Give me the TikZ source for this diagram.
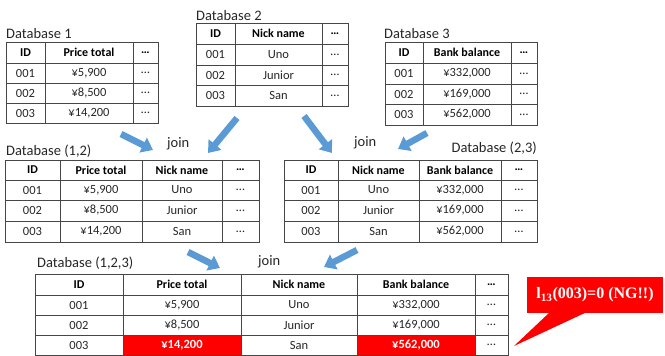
\documentclass[tikz,border=0pt]{standalone}
\usepackage{fontspec}
\setmainfont{Carlito}
\newfontfamily\calloutfont{Liberation Serif}
\usetikzlibrary{arrows.meta}

\definecolor{joinblue}{RGB}{91,155,213}
\definecolor{gridline}{RGB}{70,70,70}

\tikzset{
  cellbox/.style={draw=gridline, line width=0.9pt, inner sep=0pt,
    font=\fontsize{12.5}{14}\selectfont, text=black!85},
  headcell/.style={font=\fontsize{12}{14}\selectfont\bfseries, text=black},
  hotcell/.style={fill=red, text=white, font=\fontsize{12.5}{14}\selectfont\bfseries},
  dblabel/.style={anchor=base west, inner sep=0pt,
    font=\fontsize{14.5}{17}\selectfont, text=black!85},
  joinlabel/.style={anchor=base west, inner sep=0pt,
    font=\fontsize{14.5}{17}\selectfont, text=black!85},
  joinarrow/.style={draw=joinblue, line width=6.5pt,
    -{Triangle[width=16pt,length=11pt]}},
  calloutbox/.style={fill=red, inner sep=0pt, minimum width=136pt,
    minimum height=36pt, text=white,
    font=\calloutfont\bfseries\fontsize{16}{18}\selectfont},
}

% one table cell: [style] name, x0, x1, y0, y1, text
\newcommand\tcell[7][]{%
  \pgfmathsetmacro\cellw{#4-#3}%
  \pgfmathsetmacro\cellh{#6-#5}%
  \node[cellbox,#1,minimum width=\cellw pt,minimum height=\cellh pt]
    (#2) at ({(#3+#4)/2},{(#5+#6)/2}) {#7};}

% one table row: table, row, y0, y1, style, list of x0/x1/text
\newcommand\trow[6]{%
  \foreach \xa/\xb/\tx [count=\c] in {#6}{%
    \tcell[#5]{#1-#2-\c}{\xa}{\xb}{#3}{#4}{\tx}}}

\begin{document}
\begin{tikzpicture}[x=1pt,y=-1pt]
\useasboundingbox (0,0) rectangle (665,356);

% ---- Database 1
\node[dblabel] (l1) at (6,38) {Database 1};
\trow{t1}{0}{42}{63}{headcell}{6/45/ID,45/133/Price total,133/158/…}
\trow{t1}{1}{63}{83}{}{6/45/001,45/133/{¥5,900},133/158/…}
\trow{t1}{2}{83}{103}{}{6/45/002,45/133/{¥8,500},133/158/…}
\trow{t1}{3}{103}{123}{}{6/45/003,45/133/{¥14,200},133/158/…}

% ---- Database 2
\node[dblabel] (l2) at (196,20) {Database 2};
\trow{t2}{0}{23}{44}{headcell}{196/235/ID,235/322/Nick name,322/348/…}
\trow{t2}{1}{44}{65}{}{196/235/001,235/322/Uno,322/348/…}
\trow{t2}{2}{65}{85}{}{196/235/002,235/322/Junior,322/348/…}
\trow{t2}{3}{85}{106}{}{196/235/003,235/322/San,322/348/…}

% ---- Database 3
\node[dblabel] (l3) at (384,38) {Database 3};
\trow{t3}{0}{42}{63}{headcell}{385/423/ID,423/511/Bank balance,511/537/…}
\trow{t3}{1}{63}{84}{}{385/423/001,423/511/{¥332,000},511/537/…}
\trow{t3}{2}{84}{104}{}{385/423/002,423/511/{¥169,000},511/537/…}
\trow{t3}{3}{104}{125}{}{385/423/003,423/511/{¥562,000},511/537/…}

% ---- Database (1,2)
\node[dblabel] (l12) at (6,155) {Database (1,2)};
\trow{t12}{0}{160}{180}{headcell}{5/60/ID,60/142/Price total,142/222/Nick name,222/259/…}
\trow{t12}{1}{180}{200}{}{5/60/001,60/142/{¥5,900},142/222/Uno,222/259/…}
\trow{t12}{2}{200}{221}{}{5/60/002,60/142/{¥8,500},142/222/Junior,222/259/…}
\trow{t12}{3}{221}{242}{}{5/60/003,60/142/{¥14,200},142/222/San,222/259/…}

% ---- Database (2,3)
\node[dblabel,anchor=base east] (l23) at (537,152) {Database (2,3)};
\trow{t23}{0}{160}{180}{headcell}{284/338/ID,338/419/Nick name,419/501/Bank balance,501/537/…}
\trow{t23}{1}{180}{200}{}{284/338/001,338/419/Uno,419/501/{¥332,000},501/537/…}
\trow{t23}{2}{200}{221}{}{284/338/002,338/419/Junior,419/501/{¥169,000},501/537/…}
\trow{t23}{3}{221}{242}{}{284/338/003,338/419/San,419/501/{¥562,000},501/537/…}

% ---- Database (1,2,3)
\node[dblabel] (l123) at (37,267) {Database (1,2,3)};
\trow{t123}{0}{274}{295}{headcell}{35/123/ID,123/241/Price total,241/357/Nick name,357/475/Bank balance,475/508/…}
\trow{t123}{1}{295}{315}{}{35/123/001,123/241/{¥5,900},241/357/Uno,357/475/{¥332,000},475/508/…}
\trow{t123}{2}{315}{335}{}{35/123/002,123/241/{¥8,500},241/357/Junior,357/475/{¥169,000},475/508/…}
\tcell{t123-3-1}{35}{123}{335}{355}{003}
\tcell{t123-3-3}{241}{357}{335}{355}{San}
\tcell{t123-3-5}{475}{508}{335}{355}{…}
\tcell[hotcell]{t123-3-2}{123}{241}{335}{355}{¥14,200}
\tcell[hotcell]{t123-3-4}{357}{475}{335}{355}{¥562,000}

% ---- join labels
\node[joinlabel] (j12) at (167,147) {join};
\node[joinlabel] (j23) at (354,146) {join};
\node[joinlabel] (j123) at (258,265) {join};

% ---- join arrows
\coordinate (a1s) at (121,134); \coordinate (a1e) at (153,150);
\coordinate (a2s) at (237,118); \coordinate (a2e) at (208,153);
\coordinate (a3s) at (304,116); \coordinate (a3e) at (332,153);
\coordinate (a4s) at (427,133); \coordinate (a4e) at (398,149);
\coordinate (a5s) at (188,252); \coordinate (a5e) at (220,268);
\coordinate (a6s) at (357,250); \coordinate (a6e) at (324,267);
\foreach \k in {1,...,6}{\draw[joinarrow] (a\k s) -- (a\k e);}

% ---- callout
\node[calloutbox] (ng) at (595,295) {l\textsubscript{13}(003)=0 (NG!!)};
\coordinate (ngtip) at (514,346);
\coordinate (ngb1) at (550,312);
\coordinate (ngb2) at (587,312);
\fill[red] (ngb1) -- (ngtip) -- (ngb2) -- cycle;
\end{tikzpicture}
\end{document}
